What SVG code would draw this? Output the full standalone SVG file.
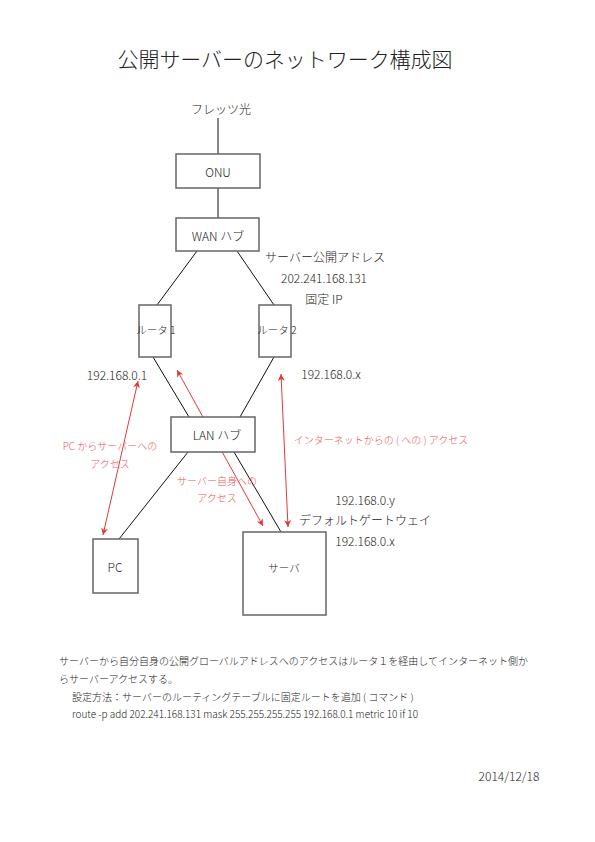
<svg xmlns="http://www.w3.org/2000/svg" width="595" height="842" viewBox="0 0 595 842">
<style>
text{font-family:"Noto Sans CJK JP","Noto Sans",sans-serif;font-weight:300;fill:#222;dominant-baseline:central}
.box{fill:#fff;stroke:#666;stroke-width:1.5}
.ln{stroke:#111;stroke-width:1;fill:none}
.ar{stroke:#e53935;stroke-width:1;fill:none;marker-start:url(#ah);marker-end:url(#ah)}
.r{fill:#e85555;font-size:10px}
.m{text-anchor:middle}
</style>
<defs>
<marker id="ah" viewBox="0 0 10 10" refX="10" refY="5" markerWidth="7" markerHeight="7" markerUnits="userSpaceOnUse" orient="auto-start-reverse">
<path d="M0,0 L10,5 L0,10 L3,5 Z" fill="#e53935"/>
</marker>
</defs>
<rect width="595" height="842" fill="#fff"/>
<text x="285" y="58" class="m" style="font-size:21px" textLength="335">公開サーバーのネットワーク構成図</text>
<text x="221" y="108" class="m" style="font-size:12px">フレッツ光</text>

<g id="connectors">
<line class="ln" x1="218" y1="118" x2="218" y2="154"/>
<line class="ln" x1="218" y1="188" x2="218" y2="218"/>
<line class="ln" x1="197" y1="251" x2="157" y2="305"/>
<line class="ln" x1="237" y1="251" x2="274" y2="305"/>
<line class="ln" x1="153" y1="357" x2="189" y2="417"/>
<line class="ln" x1="274" y1="357" x2="240" y2="417"/>
<line class="ln" x1="188" y1="452" x2="119" y2="539"/>
<line class="ln" x1="234" y1="452" x2="281" y2="532"/>
<line class="ar" x1="138" y1="381" x2="103" y2="535"/>
<line class="ar" x1="177" y1="370" x2="263" y2="526"/>
<line class="ar" x1="281" y1="374" x2="288" y2="527"/>
</g>

<g id="onu"><rect class="box" x="176" y="154" width="84" height="34"/><text x="218" y="171" class="m" style="font-size:12px">ONU</text></g>
<g id="wan"><rect class="box" x="176" y="218" width="83" height="33"/><text x="218" y="235" class="m" style="font-size:12px">WAN ハブ</text></g>
<g id="router1"><rect class="box" x="139" y="305" width="32" height="52"/><text x="156" y="329" class="m" style="font-size:10.5px">ルータ 1</text></g>
<g id="router2"><rect class="box" x="259" y="305" width="32" height="52"/><text x="277" y="329" class="m" style="font-size:10.5px">ルータ 2</text></g>
<g id="lan"><rect class="box" x="171" y="417" width="84" height="35"/><text x="217" y="434" class="m" style="font-size:12px">LAN ハブ</text></g>
<g id="pc"><rect class="box" x="93" y="539" width="45" height="54"/><text x="115" y="566" class="m" style="font-size:12px">PC</text></g>
<g id="server"><rect class="box" x="243" y="532" width="83" height="83"/><text x="284" y="567" class="m" style="font-size:10.5px">サーバ</text></g>

<g id="labels">
<text x="325" y="256" class="m" style="font-size:12px">サーバー公開アドレス</text>
<text x="324" y="277" class="m" style="font-size:12px">202.241.168.131</text>
<text x="324" y="298" class="m" style="font-size:12px">固定 IP</text>
<text x="117" y="374" class="m" style="font-size:12px">192.168.0.1</text>
<text x="331" y="373" class="m" style="font-size:12px">192.168.0.x</text>
<text x="365" y="499" class="m" style="font-size:12px">192.168.0.y</text>
<text x="365" y="519" class="m" style="font-size:12px">デフォルトゲートウェイ</text>
<text x="365" y="540" class="m" style="font-size:12px">192.168.0.x</text>
<text x="110" y="445" class="m r">PC からサーバーへの</text>
<text x="110" y="463" class="m r">アクセス</text>
<text x="217" y="480" class="m r">サーバー自身への</text>
<text x="217" y="497" class="m r">アクセス</text>
<text x="381" y="439" class="m r">インターネットからの ( への ) アクセス</text>
</g>

<g id="notes">
<text x="59" y="660" style="font-size:10px" textLength="469">サーバーから自分自身の公開グローバルアドレスへのアクセスはルータ１を経由してインターネット側か</text>
<text x="59" y="678" style="font-size:10px">らサーバーアクセスする。</text>
<text x="72" y="696" style="font-size:10px">設定方法：サーバーのルーティングテーブルに固定ルートを追加 ( コマンド )</text>
<text x="72" y="713" style="font-size:10px" textLength="346">route -p add 202.241.168.131 mask 255.255.255.255 192.168.0.1 metric 10 if 10</text>
<text x="509" y="775" class="m" style="font-size:12px">2014/12/18</text>
</g>
</svg>
